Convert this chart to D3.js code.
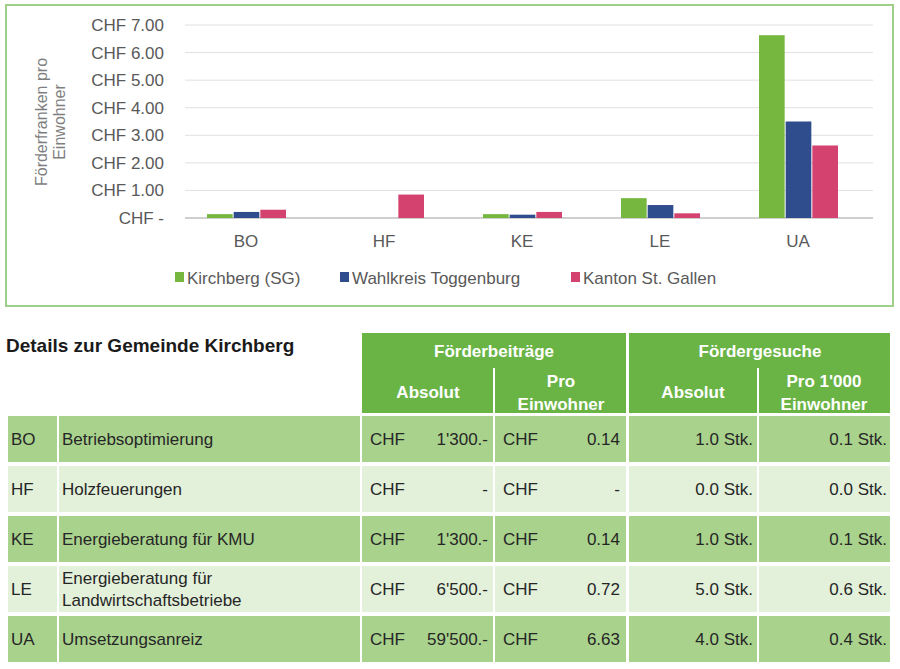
<!DOCTYPE html>
<html><head><meta charset="utf-8">
<script src="https://cdn.jsdelivr.net/npm/d3@7"></script>
<style>
body{margin:0;background:#fff;font-family:"Liberation Sans Narrow","Arial Narrow","Liberation Sans",sans-serif;}
</style></head>
<body><svg id="c" width="900" height="669"></svg>
<script>
// chart data
var categories = ["BO", "HF", "KE", "LE", "UA"];
var series = ["Kirchberg (SG)", "Wahlkreis Toggenburg", "Kanton St. Gallen"];
var kirchberg = [0.14, 0, 0.14, 0.72, 6.63];
var toggenburg = [0.22, 0, 0.12, 0.47, 3.5];
var stgallen = [0.3, 0.85, 0.22, 0.17, 2.63];
var yTicks = [0, 1, 2, 3, 4, 5, 6, 7];
var colors = ["#76b83f", "#2f4c8c", "#d4426f"];

// table data
var codes = ["BO", "HF", "KE", "LE", "UA"];
var names = [["Betriebsoptimierung"], ["Holzfeuerungen"], ["Energieberatung für KMU"], ["Energieberatung für", "Landwirtschaftsbetriebe"], ["Umsetzungsanreiz"]];
var absolut = ["1'300.-", "-", "1'300.-", "6'500.-", "59'500.-"];
var proEinw = ["0.14", "-", "0.14", "0.72", "6.63"];
var gesuche = ["1.0 Stk.", "0.0 Stk.", "1.0 Stk.", "5.0 Stk.", "4.0 Stk."];
var pro1000 = ["0.1 Stk.", "0.0 Stk.", "0.1 Stk.", "0.6 Stk.", "0.4 Stk."];

var svg = d3.select("#c");
var values = [kirchberg, toggenburg, stgallen];

svg.append("rect").attr("x", 6).attr("y", 5).attr("width", 887).attr("height", 301)
   .attr("fill", "#fff").attr("stroke", "#9fd08a").attr("stroke-width", 2);

var x = d3.scaleBand().domain(categories).range([177, 867]);
var xs = d3.scaleBand().domain(d3.range(3)).range([0, 80]);
var y = d3.scaleLinear().domain([0, 7]).range([218, 25]);

var g = svg.append("g");
g.selectAll("line.grid").data(yTicks).enter().append("line")
  .attr("x1", 185).attr("x2", 873)
  .attr("y1", function (d) { return y(d); }).attr("y2", function (d) { return y(d); })
  .attr("stroke", function (d) { return d === 0 ? "#bfbfbf" : "#e0e0e0"; })
  .attr("stroke-width", function (d) { return d === 0 ? 1.5 : 1; });

g.selectAll("text.yt").data(yTicks).enter().append("text")
  .attr("x", 164).attr("y", function (d) { return y(d) + 6; })
  .attr("text-anchor", "end").attr("font-size", 17).attr("fill", "#595959")
  .text(function (d) { return d === 0 ? "CHF -" : "CHF " + d.toFixed(2); });

g.append("text").attr("transform", "translate(47,122) rotate(-90)")
  .attr("text-anchor", "middle").attr("font-size", 16).attr("fill", "#7f7f7f")
  .attr("font-family", "Liberation Sans, sans-serif")
  .selectAll("tspan").data(["Förderfranken pro", "Einwohner"]).enter().append("tspan")
  .attr("x", 0).attr("dy", function (d, i) { return i ? 18 : 0; }).text(function (d) { return d; });

values.forEach(function (vals, s) {
  g.selectAll("rect.s" + s).data(vals).enter().append("rect")
    .attr("x", function (d, i) { return x(categories[i]) + x.bandwidth() / 2 - 40 + xs(s) + 1; })
    .attr("width", xs.bandwidth() - 1)
    .attr("y", function (d) { return y(d); })
    .attr("height", function (d) { return y(0) - y(d); })
    .attr("fill", colors[s]);
});

g.selectAll("text.xt").data(categories).enter().append("text")
  .attr("x", function (d) { return x(d) + x.bandwidth() / 2; }).attr("y", 247)
  .attr("text-anchor", "middle").attr("font-size", 17).attr("fill", "#595959")
  .text(function (d) { return d; });

var legX = [175, 340, 571];
series.forEach(function (s, i) {
  g.append("rect").attr("x", legX[i]).attr("y", 272).attr("width", 9).attr("height", 10).attr("fill", colors[i]);
  g.append("text").attr("x", legX[i] + 12).attr("y", 284).attr("font-size", 17).attr("fill", "#595959").text(s);
});

// table
var t = svg.append("g");
t.append("text").attr("x", 6).attr("y", 352).attr("font-size", 19).attr("font-weight", "bold")
  .attr("fill", "#1a1a1a").text("Details zur Gemeinde Kirchberg");

var hdr = "#6ab446", dark = "#a9d28d", light = "#e3f0da";
var cols = [[8, 49], [59, 301], [362, 131], [495, 131], [629, 128], [759, 131]];
function cell(cx, cy, w, h, fill) {
  t.append("rect").attr("x", cx).attr("y", cy).attr("width", w).attr("height", h).attr("fill", fill);
}
cell(362, 333, 264, 35, hdr); cell(629, 333, 261, 35, hdr);
[2, 3, 4, 5].forEach(function (c) { cell(cols[c][0], 368, cols[c][1], 45, hdr); });
function txt(tx, ty, s, anchor, opts) {
  var e = t.append("text").attr("x", tx).attr("y", ty).attr("text-anchor", anchor || "start")
    .attr("font-size", 17).attr("fill", (opts && opts.fill) || "#262626").text(s);
  if (opts && opts.bold) e.attr("font-weight", "bold");
  return e;
}
var W = {fill: "#fff", bold: true};
txt(494, 357, "Förderbeiträge", "middle", W);
txt(760, 357, "Fördergesuche", "middle", W);
txt(428, 398, "Absolut", "middle", W);
txt(561, 387, "Pro", "middle", W); txt(561, 410, "Einwohner", "middle", W);
txt(693, 398, "Absolut", "middle", W);
txt(824, 387, "Pro 1'000", "middle", W); txt(824, 410, "Einwohner", "middle", W);

var rowY = d3.scaleBand().domain(codes).range([416, 666]);
codes.forEach(function (c, i) {
  var ry = rowY(c), rh = rowY.bandwidth() - 4, fill = i % 2 ? light : dark, my = ry + rh / 2 + 6;
  cols.forEach(function (col) { cell(col[0], ry, col[1], rh, fill); });
  txt(11, my, c);
  if (names[i].length === 1) txt(62, my, names[i][0]);
  else { txt(62, my - 11, names[i][0]); txt(62, my + 11, names[i][1]); }
  txt(370, my, "CHF"); txt(488, my, absolut[i], "end");
  txt(503, my, "CHF"); txt(620, my, proEinw[i], "end");
  txt(753, my, gesuche[i], "end"); txt(887, my, pro1000[i], "end");
});
</script></body></html>
